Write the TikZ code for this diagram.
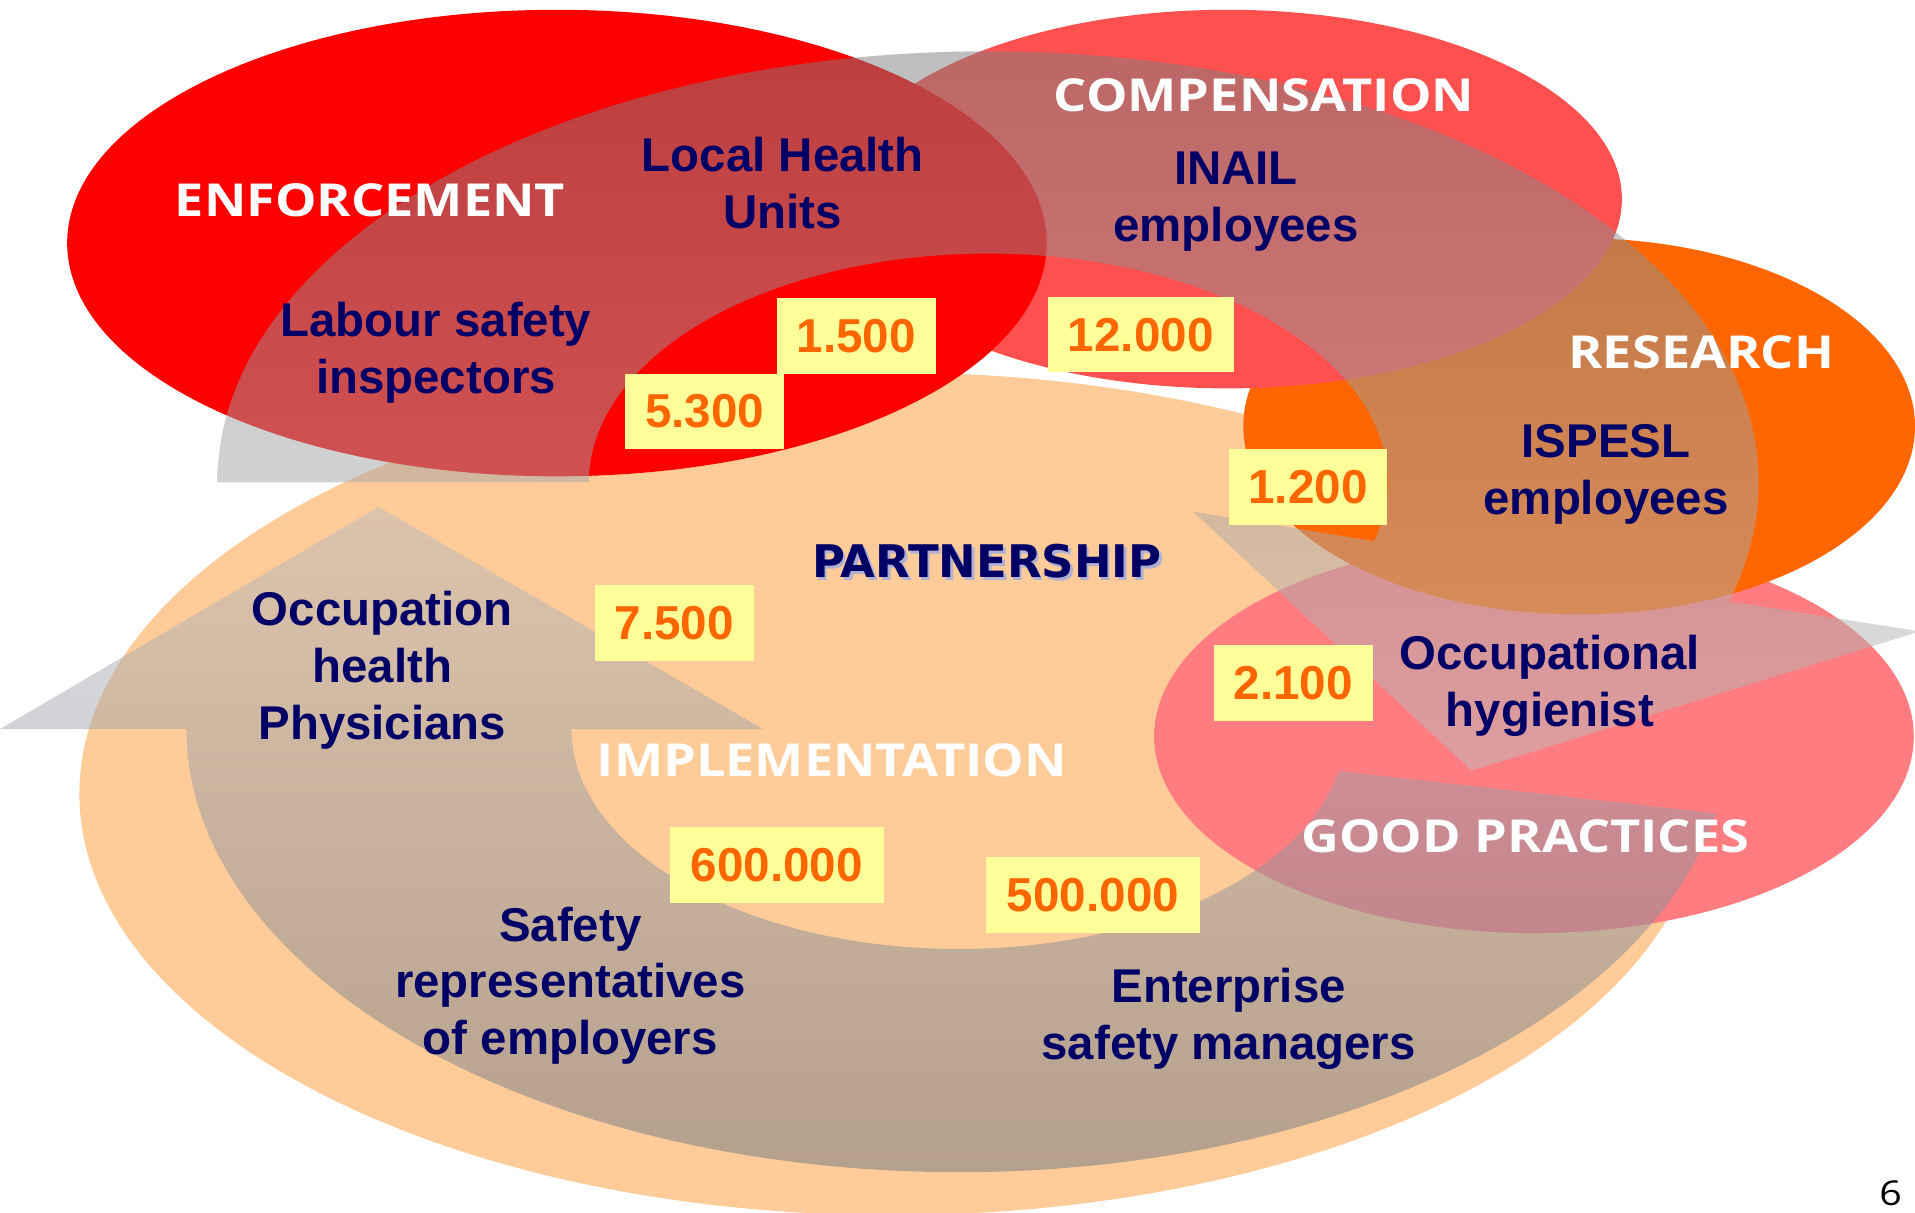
\documentclass[tikz,border=0pt]{standalone}
\usepackage{fontspec}
\setmainfont{Liberation Sans}
\newfontfamily\titlefont[FakeStretch=1.15]{Open Sans}
\newfontfamily\partfont{DejaVu Sans}

\definecolor{peach}{RGB}{255,204,153}
\definecolor{enfred}{RGB}{255,0,0}
\definecolor{compred}{RGB}{255,80,80}
\definecolor{resorange}{RGB}{255,102,0}
\definecolor{gppink}{RGB}{255,124,128}
\definecolor{navy}{RGB}{0,0,102}
\definecolor{boxyellow}{RGB}{255,255,153}
\definecolor{numorange}{RGB}{255,102,0}
\definecolor{shadowblue}{RGB}{176,176,210}
\definecolor{bandtop}{RGB}{188,188,192}
\definecolor{bandbot}{RGB}{101,114,127}
\definecolor{loopdark}{RGB}{125,125,125}
\definecolor{looplight}{RGB}{190,190,190}

\begin{document}
\begin{tikzpicture}[x=0.5pt,y=0.5pt,
  lbl/.style={text=navy,font=\bfseries\fontsize{19.4}{23.3}\selectfont,align=center,inner sep=0pt,anchor=north},
  ttl/.style={text=white,font=\titlefont\bfseries\fontsize{18.6}{22}\selectfont,inner sep=0pt,anchor=base},
  num/.style={fill=boxyellow,text=numorange,font=\bfseries\fontsize{19.5}{23}\selectfont,inner sep=0pt,minimum height=31pt,minimum width=65pt},
  bandA/.style={top color=bandtop,bottom color=bandbot,fill opacity=0.5},
  bandB/.style={top color=loopdark,bottom color=looplight,fill opacity=0.5}]

\useasboundingbox (0,0) rectangle (1568,993);

\fill[peach] (730,343) ellipse [x radius=665, y radius=345];
\fill[gppink] (1256,390) ellipse [x radius=311, y radius=161];
\fill[resorange] (1293,644) ellipse [x radius=275, y radius=154];
\fill[compred] (1005,830) ellipse [x radius=323, y radius=155];
\fill[enfred] (456,794) ellipse [x radius=401, y radius=191];

\shade[bandA] (1405,327) arc[start angle=-11, end angle=-180, x radius=632, y radius=363]
  -- (0,396) -- (310,578) -- (625,396) -- (468,396)
  arc[start angle=180, end angle=349, x radius=317, y radius=180] -- cycle;

\shade[bandB] (178,598) arc[start angle=180, end angle=-16, x radius=631, y radius=353]
  -- (1572,476) -- (1205,362) -- (977,574) -- (1125,550)
  arc[start angle=-15, end angle=180, x radius=327, y radius=187] -- cycle;

\node[num] (n1500) at (701,718) {1.500};
\node[num] (n5300) at (577,656) {5.300};
\node[num,minimum width=76pt] (n12000) at (934,719) {12.000};
\node[num] (n1200) at (1071,594) {1.200};
\node[num] (n7500) at (552,483) {7.500};
\node[num] (n2100) at (1059,434) {2.100};
\node[num,minimum width=87.5pt] (n600000) at (636,285) {600.000};
\node[num,minimum width=87.5pt] (n500000) at (895,260) {500.000};

\node[ttl] (enf) at (303,816) {ENFORCEMENT};
\node[ttl] (comp) at (1035,902) {COMPENSATION};
\node[ttl] (res) at (1393,691) {RESEARCH};
\node[ttl] (impl) at (681,357) {IMPLEMENTATION};
\node[ttl] (gp) at (1249,295) {GOOD PRACTICES};

\node[anchor=base,inner sep=0pt,text=shadowblue,font=\partfont\bfseries\fontsize{18.4}{22}\selectfont] (partsh) at (810,518) {PARTNERSHIP};
\node[anchor=base,inner sep=0pt,text=navy,font=\partfont\bfseries\fontsize{18.4}{22}\selectfont] (part) at (808,520) {PARTNERSHIP};

\node[lbl] (lhu) at (641,881) {Local Health\\Units};
\node[lbl] (inail) at (1012,869) {INAIL\\employees};
\node[lbl] (lsi) at (357,746) {Labour safety\\inspectors};
\node[lbl] (ispesl) at (1315,646) {ISPESL\\employees};
\node[lbl] (ohp) at (313,509) {Occupation\\health\\Physicians};
\node[lbl] (ohy) at (1269,473) {Occupational\\hygienist};
\node[lbl] (srep) at (467,251) {Safety\\representatives\\of employers};
\node[lbl] (esm) at (1006,201) {Enterprise\\safety managers};

\node[font=\titlefont\fontsize{14}{16}\selectfont,inner sep=0pt] (page) at (1548,16) {6};

\end{tikzpicture}
\end{document}
